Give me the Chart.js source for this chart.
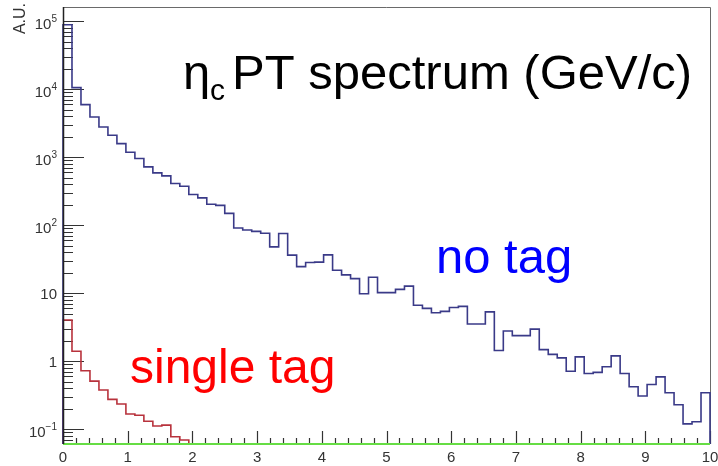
<!DOCTYPE html>
<html>
<head>
<meta charset="utf-8">
<script src="https://cdn.jsdelivr.net/npm/chart.js@4.4.1/dist/chart.umd.min.js"></script>
<style>
  html, body { margin: 0; padding: 0; background: #ffffff; }
  #wrap { position: relative; width: 718px; height: 466px; }
</style>
</head>
<body>
<div id="wrap"><canvas id="c" width="718" height="466"></canvas></div>
<script>
// Histogram binning along pT (GeV/c)
const xRange = [0, 10];
const binCount = 72;
// Vertical (log) axis range, arbitrary units
const yRange = [0.0608, 1.607e5];

// Bin contents, "no tag" sample
const noTag = [
  88000, 10500, 5900, 3890, 2770, 2100, 1580, 1180, 953, 718,
  586, 530, 409, 374, 282, 252, 203, 195, 149, 91,
  85, 81, 76, 48, 75.5, 36.3, 24.6, 28.3, 28.6, 36.6,
  21.7, 18.6, 16.4, 9.8, 17.2, 10.2, 10.2, 11.4, 12.7, 6.64,
  5.98, 5.15, 5.41, 6.15, 6.40, 3.52, 3.52, 5.31, 1.44, 2.79,
  2.38, 2.38, 2.97, 1.48, 1.26, 1.12, 0.713, 1.16, 0.659, 0.687,
  0.830, 1.20, 0.659, 0.422, 0.308, 0.455, 0.590, 0.344, 0.229, 0.120,
  0.129, 0.344
];

// Bin contents, "single tag" sample
const singleTag = [
  4.03, 1.40, 0.725, 0.511, 0.378, 0.275, 0.235, 0.168, 0.161, 0.131,
  0.112, 0.115, 0.0779, 0.0697, 0, 0, 0, 0, 0, 0,
  0, 0, 0, 0, 0, 0, 0, 0, 0, 0,
  0, 0, 0, 0, 0, 0, 0, 0, 0, 0,
  0, 0, 0, 0, 0, 0, 0, 0, 0, 0,
  0, 0, 0, 0, 0, 0, 0, 0, 0, 0,
  0, 0, 0, 0, 0, 0, 0, 0, 0, 0,
  0, 0
];

// Bin contents, "double tag" sample (empty everywhere)
const doubleTag = [
  0, 0, 0, 0, 0, 0, 0, 0, 0, 0,
  0, 0, 0, 0, 0, 0, 0, 0, 0, 0,
  0, 0, 0, 0, 0, 0, 0, 0, 0, 0,
  0, 0, 0, 0, 0, 0, 0, 0, 0, 0,
  0, 0, 0, 0, 0, 0, 0, 0, 0, 0,
  0, 0, 0, 0, 0, 0, 0, 0, 0, 0,
  0, 0, 0, 0, 0, 0, 0, 0, 0, 0,
  0, 0
];

// Axis tick labels
const xTickLabels = ['0', '1', '2', '3', '4', '5', '6', '7', '8', '9', '10'];
const yDecades = [-1, 0, 1, 2, 3, 4, 5];

// Turn bin contents into a closed step outline (ROOT "HIST" style).
// Empty bins sit on the bottom of the log axis.
function histOutline(values) {
  const w = (xRange[1] - xRange[0]) / binCount;
  const floor = yRange[0];
  const pts = [{ x: xRange[0], y: floor }];
  values.forEach((v, i) => pts.push({ x: xRange[0] + i * w, y: Math.max(v, floor) }));
  pts.push({ x: xRange[1], y: Math.max(values[values.length - 1], floor) });
  pts.push({ x: xRange[1], y: floor });
  return pts;
}

const FONT = '"Liberation Sans", Arial, Helvetica, sans-serif';

const rootFrame = {
  id: 'rootFrame',
  beforeDatasetsDraw(chart) {
    const { ctx, chartArea: a, scales: { x, y } } = chart;
    ctx.save();
    // frame top and right
    ctx.strokeStyle = '#6a6a6a';
    ctx.lineWidth = 1;
    ctx.beginPath();
    ctx.moveTo(a.left, a.top + 0.5);
    ctx.lineTo(a.right + 0.5, a.top + 0.5);
    ctx.lineTo(a.right + 0.5, a.bottom);
    ctx.stroke();

    // x ticks (inside, pointing up)
    ctx.strokeStyle = '#333';
    ctx.lineWidth = 1.2;
    ctx.beginPath();
    for (let k = 0; k <= 50; k++) {
      const v = xRange[0] + k * 0.2;
      const px = Math.round(x.getPixelForValue(v)) + 0.5;
      const len = (k % 5 === 0) ? 13 : 6;
      ctx.moveTo(px, a.bottom);
      ctx.lineTo(px, a.bottom - len);
    }
    ctx.stroke();

    // y ticks (inside, pointing right)
    ctx.beginPath();
    for (let d = -2; d <= 5; d++) {
      for (let m = 1; m <= 9; m++) {
        const v = m * Math.pow(10, d);
        if (v < yRange[0] || v > yRange[1]) continue;
        const py = Math.round(y.getPixelForValue(v)) + 0.5;
        const len = (m === 1) ? 21 : 10;
        ctx.moveTo(a.left, py);
        ctx.lineTo(a.left + len, py);
      }
    }
    ctx.stroke();
    ctx.restore();
  },
  afterDatasetsDraw(chart) {
    const { ctx, chartArea: a, scales: { x, y } } = chart;
    ctx.save();
    // left axis
    ctx.strokeStyle = '#222';
    ctx.lineWidth = 1.5;
    ctx.beginPath();
    ctx.moveTo(a.left + 0.5, a.top);
    ctx.lineTo(a.left + 0.5, a.bottom);
    ctx.stroke();

    // x labels
    ctx.fillStyle = '#333';
    ctx.font = '15px ' + FONT;
    ctx.textAlign = 'center';
    ctx.textBaseline = 'alphabetic';
    xTickLabels.forEach((t) => {
      ctx.fillText(t, x.getPixelForValue(Number(t)), 462);
    });

    // y labels
    const right = 57;
    yDecades.forEach((d) => {
      const py = y.getPixelForValue(Math.pow(10, d));
      if (d === 0 || d === 1) {
        ctx.font = '15px ' + FONT;
        ctx.textAlign = 'right';
        ctx.fillText(String(Math.pow(10, d)), right, py + 6);
      } else {
        const sup = d < 0 ? '\u2212' + (-d) : String(d);
        ctx.font = '10px ' + FONT;
        const ws = ctx.measureText(sup).width;
        ctx.textAlign = 'right';
        ctx.fillText(sup, right, py + 1);
        ctx.font = '15px ' + FONT;
        ctx.fillText('10', right - ws, py + 8);
      }
    });

    // axis title
    ctx.save();
    ctx.translate(25, 3);
    ctx.rotate(-Math.PI / 2);
    ctx.font = '16px ' + FONT;
    ctx.textAlign = 'right';
    ctx.fillStyle = '#333';
    ctx.fillText('A.U.', 0, 0);
    ctx.restore();

    // plot title
    ctx.textAlign = 'left';
    ctx.fillStyle = '#000';
    ctx.font = '49px ' + FONT;
    ctx.fillText('\u03b7', 183, 89);
    ctx.font = '30px ' + FONT;
    ctx.fillText('c', 210, 100);
    ctx.font = '49px ' + FONT;
    ctx.fillText('PT spectrum (GeV/c)', 232, 89);

    // sample annotations
    ctx.font = '49px ' + FONT;
    ctx.fillStyle = '#0000ff';
    ctx.fillText('no tag', 436, 273);
    ctx.font = '48px ' + FONT;
    ctx.fillStyle = '#ff0000';
    ctx.fillText('single tag', 130, 383);
    ctx.restore();
  }
};

new Chart(document.getElementById('c'), {
  type: 'line',
  data: {
    datasets: [
      {
        label: 'double tag',
        data: histOutline(doubleTag),
        borderColor: '#66dd44',
        borderWidth: 2,
        stepped: true,
        pointRadius: 0,
        fill: false,
        clip: false,
        order: 0
      },
      {
        label: 'no tag',
        data: histOutline(noTag),
        borderColor: '#3a3a88',
        borderWidth: 1.6,
        stepped: true,
        pointRadius: 0,
        fill: false,
        clip: false,
        order: 1
      },
      {
        label: 'single tag',
        data: histOutline(singleTag),
        borderColor: '#b8323c',
        borderWidth: 1.6,
        stepped: true,
        pointRadius: 0,
        fill: false,
        clip: false,
        order: 2
      }
    ]
  },
  options: {
    responsive: false,
    animation: false,
    devicePixelRatio: 1,
    layout: { padding: { left: 63, right: 8, top: 7, bottom: 22 } },
    plugins: { legend: { display: false }, tooltip: { enabled: false } },
    scales: {
      x: { type: 'linear', min: xRange[0], max: xRange[1], display: false },
      y: { type: 'logarithmic', min: yRange[0], max: yRange[1], display: false }
    }
  },
  plugins: [rootFrame]
});
</script>
</body>
</html>
